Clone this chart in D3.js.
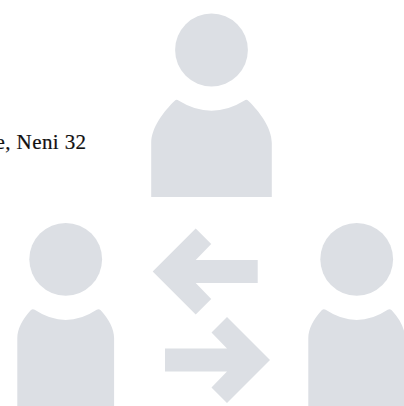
<!DOCTYPE html>
<html>
<head>
    <meta charset="utf-8">
    <title>Neni 32</title>
    <script src="https://d3js.org/d3.v7.min.js"></script>
    <style>
        body { margin: 0; background: #fff; overflow: hidden; }
        svg { display: block; }
        .caption { font-family: "Liberation Serif", serif; font-size: 21px; letter-spacing: 0.4px; fill: #111; stroke: #111; stroke-width: 0.2px; }
    </style>
</head>
<body>
    <div id="chart"></div>
    <script>
        // Chart content
        const people = ["top", "left", "right"];
        const arrows = ["back", "forward"];
        const captions = ["e, Neni 32"];

        const W = 404, H = 406;
        const fillColor = "#dcdfe4";

        const svg = d3.select("#chart").append("svg")
            .attr("width", W)
            .attr("height", H);

        // Where each icon sits on the page
        const personX = d3.scaleOrdinal().domain(people).range([211.5, 65.7, 356.7]);
        const personY = d3.scaleOrdinal().domain(people).range([50, 259.3, 259.3]);
        const bodyHalf = d3.scaleOrdinal().domain(people).range([60.3, 48.4, 48.4]);
        const bodyBottom = d3.scaleOrdinal().domain(people).range([197, 406, 406]);

        // Head and shoulders, drawn relative to the head centre
        function bodyPath(p) {
            const half = bodyHalf(p);
            const top = 50;
            const wide = half > 50;
            const neck = wide ? 35 : 33;
            const sideY = wide ? 93 : 79;
            const c1 = wide ? 78 : 70;
            const c2x = wide ? half - 12 : half - 5;
            const c2y = wide ? 62 : 60;
            const path = d3.path();
            path.moveTo(-half, bodyBottom(p) - personY(p));
            path.lineTo(-half, sideY);
            path.bezierCurveTo(-half, c1, -c2x, c2y, -neck - 2, top + 1);
            path.quadraticCurveTo(-neck, top - 1, -neck + 2, top + 0.5);
            path.quadraticCurveTo(0, top + 21, neck - 2, top + 0.5);
            path.quadraticCurveTo(neck, top - 1, neck + 2, top + 1);
            path.bezierCurveTo(c2x, c2y, half, c1, half, sideY);
            path.lineTo(half, bodyBottom(p) - personY(p));
            path.closePath();
            return path.toString();
        }

        const person = svg.selectAll(".person")
            .data(people)
            .join("g")
            .attr("class", "person")
            .attr("transform", d => `translate(${personX(d)},${personY(d)})`)
            .attr("fill", fillColor);

        person.append("circle").attr("r", 36.4);
        person.append("path").attr("d", bodyPath);

        // Arrow outline pointing right, tip at the origin
        const arrowShape = [[0, 0], [-43, -43], [-58.5, -27.5], [-43, -11.5], [-105, -11.5],
                            [-105, 11.5], [-43, 11.5], [-58.5, 27.5], [-43, 43]];
        const arrowX = d3.scaleOrdinal().domain(arrows).range([152.7, 270]);
        const arrowY = d3.scaleOrdinal().domain(arrows).range([271.6, 360]);
        const arrowDir = d3.scaleOrdinal().domain(arrows).range([-1, 1]);

        svg.selectAll(".arrow")
            .data(arrows)
            .join("path")
            .attr("class", "arrow")
            .attr("fill", fillColor)
            .attr("transform", d => `translate(${arrowX(d)},${arrowY(d)}) scale(${arrowDir(d)},1)`)
            .attr("d", d3.line()(arrowShape) + "Z");

        // The caption runs off the left edge, same as the reference
        svg.selectAll(".caption")
            .data(captions)
            .join("text")
            .attr("class", "caption")
            .attr("x", 86.5)
            .attr("y", 148.5)
            .attr("text-anchor", "end")
            .text(d => d);
    </script>
</body>
</html>
